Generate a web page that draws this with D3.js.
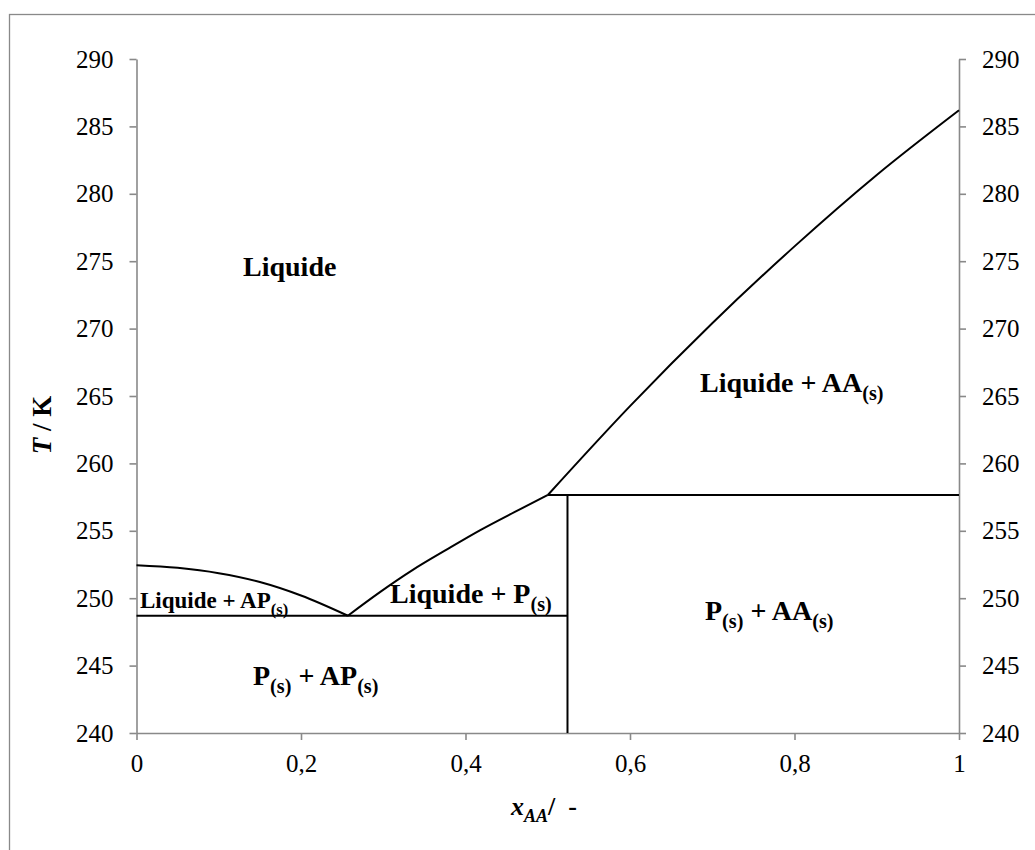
<!DOCTYPE html>
<html><head><meta charset="utf-8">
<script src="https://cdn.jsdelivr.net/npm/d3@7"></script>
<style>body{margin:0;background:#fff}svg{display:block}text{font-family:"Liberation Serif","Times New Roman",serif;white-space:pre}</style>
</head><body>
<svg id="c" width="1035" height="850"></svg>
<script>
const xTicks = [0, 0.2, 0.4, 0.6, 0.8, 1];
const xTickLabels = ["0", "0,2", "0,4", "0,6", "0,8", "1"];
const yTicks = [240, 245, 250, 255, 260, 265, 270, 275, 280, 285, 290];

const leftLiquidusX = [0, 0.05, 0.1, 0.15, 0.2, 0.257];
const leftLiquidusT = [252.45, 252.25, 251.85, 251.2, 250.2, 248.7];
const midLiquidusX = [0.257, 0.296, 0.336, 0.377, 0.418, 0.46, 0.5];
const midLiquidusT = [248.7, 250.45, 252.1, 253.6, 255.05, 256.4, 257.65];
const rightLiquidusX = [0.5, 0.6, 0.7, 0.8, 0.9, 1];
const rightLiquidusT = [257.65, 264.25, 270.4, 276.1, 281.4, 286.2];

const eutecticT = 248.7, eutecticXEnd = 0.524;
const peritecticT = 257.65, peritecticX0 = 0.5;
const compoundX = 0.524;

const svg = d3.select("#c");
const L = 136.5, R = 959, T = 59, B = 733;
const x = d3.scaleLinear().domain([0, 1]).range([L, R]);
const y = d3.scaleLinear().domain([240, 290]).range([B, T]);
const axisColor = "#898989";

// outer frame
svg.append("rect").attr("x", 9.5).attr("y", 14.5).attr("width", 1100).attr("height", 900)
  .attr("fill", "none").attr("stroke", axisColor).attr("stroke-width", 1.3);

function styleAxis(g) {
  g.select(".domain").attr("stroke", axisColor).attr("stroke-width", 1.6);
  g.selectAll(".tick line").attr("stroke", axisColor).attr("stroke-width", 1.6);
  g.selectAll(".tick text").attr("fill", "#000").attr("font-size", 25)
    .attr("font-family", "Liberation Serif");
}
const yl = svg.append("g").attr("transform", `translate(${L},0)`)
  .call(d3.axisLeft(y).tickValues(yTicks).tickSize(7).tickSizeOuter(0).tickPadding(16).tickFormat(d3.format("d")));
styleAxis(yl);
const yr = svg.append("g").attr("transform", `translate(${R},0)`)
  .call(d3.axisRight(y).tickValues(yTicks).tickSize(7).tickSizeOuter(0).tickPadding(16).tickFormat(d3.format("d")));
styleAxis(yr);
const xb = svg.append("g").attr("transform", `translate(0,${B})`)
  .call(d3.axisBottom(x).tickValues(xTicks).tickSize(7).tickSizeOuter(0).tickPadding(14)
    .tickFormat((d, i) => xTickLabels[i]));
styleAxis(xb);

// lines
const line = d3.line().x(d => x(d[0])).y(d => y(d[1])).curve(d3.curveMonotoneX);
const zip = (a, b) => a.map((v, i) => [v, b[i]]);
const g = svg.append("g").attr("fill", "none").attr("stroke", "#000").attr("stroke-width", 2);
g.append("path").attr("d", line(zip(leftLiquidusX, leftLiquidusT)));
g.append("path").attr("d", line(zip(midLiquidusX, midLiquidusT)));
g.append("path").attr("d", line(zip(rightLiquidusX, rightLiquidusT)));
const straight = d3.line().x(d => x(d[0])).y(d => y(d[1]));
g.append("path").attr("d", straight([[0, eutecticT], [eutecticXEnd, eutecticT]]));
g.append("path").attr("d", straight([[peritecticX0, peritecticT], [1, peritecticT]]));
g.append("path").attr("d", straight([[compoundX, 240], [compoundX, peritecticT]]));

// region labels
function label(px, py, parts, size) {
  const t = svg.append("text").attr("x", px).attr("y", py).attr("font-size", size)
    .attr("font-weight", "bold").attr("fill", "#000");
  let shifted = 0;
  parts.forEach(p => {
    const s = t.append("tspan");
    if (p.sub) {
      s.attr("font-size", size * 0.72).attr("dy", size * 0.3 - shifted).text(p.t);
      shifted = size * 0.3;
    } else {
      if (shifted) s.attr("dy", -shifted);
      shifted = 0;
      s.text(p.t);
    }
  });
}
label(243, 276, [{t: "Liquide"}], 28);
label(700, 392, [{t: "Liquide + AA"}, {t: "(s)", sub: true}], 28);
label(390, 603, [{t: "Liquide + P"}, {t: "(s)", sub: true}], 28);
label(140, 608, [{t: "Liquide + AP"}, {t: "(s)", sub: true}], 23);
label(253, 685, [{t: "P"}, {t: "(s)", sub: true}, {t: " + AP"}, {t: "(s)", sub: true}], 28);
label(705, 620, [{t: "P"}, {t: "(s)", sub: true}, {t: " + AA"}, {t: "(s)", sub: true}], 28);

// axis titles
const xt = svg.append("text").attr("x", 511).attr("y", 815)
  .attr("font-size", 26).attr("font-weight", "bold").attr("fill", "#000");
xt.append("tspan").attr("font-style", "italic").text("x");
xt.append("tspan").attr("font-style", "italic").attr("font-size", 18).attr("dy", 7).text("AA");
xt.append("tspan").attr("dy", -7).text("/  -");

const yt = svg.append("text").attr("transform", `translate(51,425) rotate(-90)`)
  .attr("text-anchor", "middle").attr("font-size", 27).attr("font-weight", "bold").attr("fill", "#000");
yt.append("tspan").attr("font-style", "italic").text("T");
yt.append("tspan").text(" / K");
</script>
</body></html>
